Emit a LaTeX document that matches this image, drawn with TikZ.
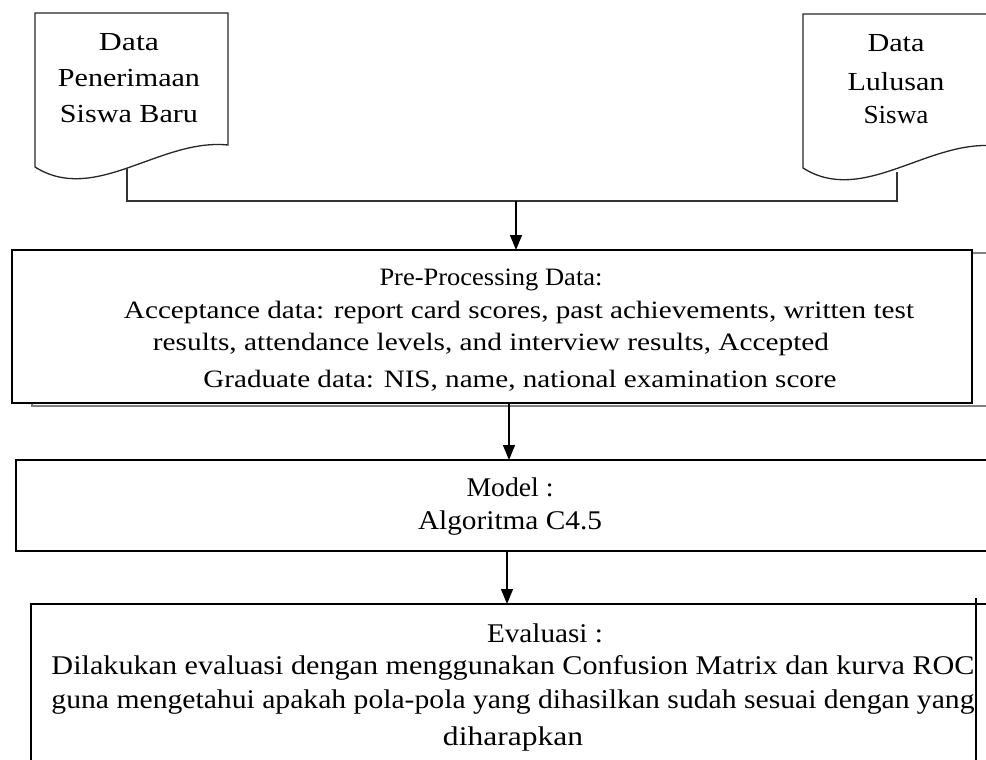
\documentclass[tikz,border=0pt]{standalone}
\usepackage{fontspec}
\setmainfont{Liberation Serif}
\usetikzlibrary{arrows.meta}
\newcommand{\fitw}[2]{\resizebox{#1}{\height}{#2}}
\tikzset{
  docline/.style={line width=1.3pt, draw=black!85, fill=white},
  conn/.style={line width=1.3pt, draw=black!80},
  arr/.style={-{Triangle[length=15pt,width=12pt]}, line width=1.3pt},
  txt/.style={anchor=base, inner sep=0pt, outer sep=0pt},
  doctxt/.style={txt, font=\fontsize{26}{30}\selectfont, text=black},
  pretxt/.style={txt, font=\fontsize{25}{30}\selectfont},
  evtxt/.style={txt, font=\fontsize{27}{32}\selectfont, text=black},
  boxnode/.style={draw, fill=white, anchor=north west, inner sep=0pt, outer sep=0pt},
}
\begin{document}
\begin{tikzpicture}[x=1pt,y=-1pt]
\useasboundingbox (0,0) rectangle (986,760);
\clip (0,0) rectangle (986,760);

% documents
\draw[docline] (35,13) -- (228,13) -- (228,145) .. controls (160,138) and (95,205) .. (35,167) -- cycle;
\begin{scope}[shift={(768,1)}]
\draw[docline] (35,13) -- (228,13) -- (228,145) .. controls (160,138) and (95,205) .. (35,167) -- cycle;
\end{scope}
\node[doctxt] (d1a) at (129,50) {\fitw{60pt}{Data}};
\node[doctxt] (d1b) at (129,87) {\fitw{142pt}{Penerimaan}};
\node[doctxt] (d1c) at (129,122) {\fitw{138pt}{Siswa Baru}};
\node[doctxt] (d2a) at (896,52) {\fitw{57pt}{Data}};
\node[doctxt] (d2b) at (896,90) {\fitw{97pt}{Lulusan}};
\node[doctxt] (d2c) at (896,124) {\fitw{65pt}{Siswa}};

% connector from documents
\coordinate (d1bot) at (127,168);
\coordinate (d2bot) at (897,172);
\coordinate (jl) at (127,201);
\coordinate (jr) at (897,201);
\coordinate (jm) at (516,201);
\draw[conn] (d1bot) -- (jl) -- (jr) -- (d2bot);

% pre-processing
\draw[gray, line width=1.6pt] (32,253) rectangle (1000,406);
\node[boxnode, line width=2.5pt, minimum width=960pt, minimum height=153pt] (pre) at (12,250) {};
\node[pretxt] (p1) at (491,285) {\fitw{223pt}{Pre-Processing Data:}};
\node[pretxt] (p2) at (519,318) {\fitw{790pt}{Acceptance data: report card scores, past achievements, written test}};
\node[pretxt] (p3) at (491,350) {\fitw{676pt}{results, attendance levels, and interview results, Accepted}};
\node[pretxt] (p4) at (520,387) {\fitw{633pt}{Graduate data: NIS, name, national examination score}};
\draw[arr] (jm) -- (jm |- pre.north);

% model
\node[boxnode, line width=2.4pt, minimum width=1000pt, minimum height=91pt] (model) at (16,460) {};
\node[evtxt] (m1) at (510,496) {\fitw{87pt}{Model :}};
\node[evtxt] (m2) at (510,529) {\fitw{184pt}{Algoritma C4.5}};
\coordinate (x2) at (509,0);
\draw[arr] (x2 |- pre.south) -- (x2 |- model.north);

% evaluation
\node[boxnode, line width=1.6pt, minimum width=1000pt, minimum height=300pt] (eval) at (31,604) {};
\coordinate (vt) at (976,598);
\coordinate (vb) at (976,760);
\draw[line width=1.4pt] (vt) -- (vb);
\node[evtxt] (e1) at (545,642) {\fitw{116pt}{Evaluasi :}};
\node[evtxt] (e2) at (513,674) {\fitw{923pt}{Dilakukan evaluasi dengan menggunakan Confusion Matrix dan kurva ROC}};
\node[evtxt] (e3) at (513,708) {\fitw{923pt}{guna mengetahui apakah pola-pola yang dihasilkan sudah sesuai dengan yang}};
\node[evtxt] (e4) at (513,745) {\fitw{140pt}{diharapkan}};
\coordinate (x3) at (507,0);
\draw[arr] (x3 |- model.south) -- (x3 |- eval.north);
\end{tikzpicture}
\end{document}
